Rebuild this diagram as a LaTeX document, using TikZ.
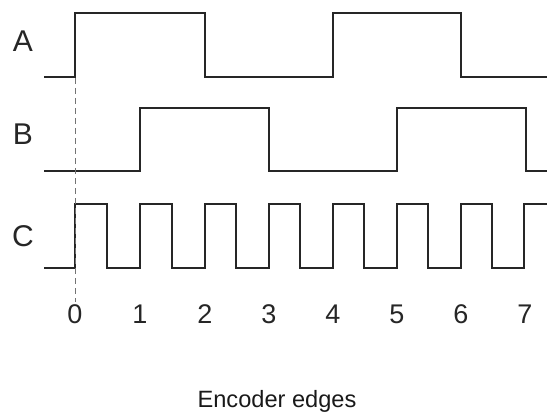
\documentclass[tikz,border=0pt]{standalone}
\usepackage{fontspec}
\setmainfont{Liberation Sans}
\begin{document}
\begin{tikzpicture}[x=1pt,y=-1pt,
  sig/.style={line width=1.6pt,draw=black!85,line join=miter},
  guide/.style={line width=1pt,draw=black!55,dash pattern=on 6pt off 4pt},
  siglabel/.style={anchor=base,font=\fontsize{30}{30}\selectfont,text=black!85,inner sep=0pt},
  ticklabel/.style={anchor=base,font=\fontsize{27}{27}\selectfont,text=black!85,inner sep=0pt},
  caption/.style={anchor=base,font=\fontsize{23.6}{23.6}\selectfont,text=black!90,inner sep=0pt}]
\useasboundingbox (0,0) rectangle (547,412);
% signal A
\draw[sig] (44,77) -- (75,77) -- (75,13) -- (205,13) -- (205,77) -- (333,77) -- (333,13) -- (461,13) -- (461,77) -- (547,77);
% signal B
\draw[sig] (44,171) -- (140,171) -- (140,108) -- (269,108) -- (269,171) -- (397,171) -- (397,108) -- (526,108) -- (526,171) -- (547,171);
% signal C
\draw[sig] (44,268) -- (75,268) -- (75,204) -- (107,204) -- (107,268) -- (140,268) -- (140,204) -- (172,204) -- (172,268)
  -- (205,268) -- (205,204) -- (236,204) -- (236,268) -- (269,268) -- (269,204) -- (300,204) -- (300,268)
  -- (333,268) -- (333,204) -- (364,204) -- (364,268) -- (397,268) -- (397,204) -- (428,204) -- (428,268)
  -- (461,268) -- (461,204) -- (492,204) -- (492,268) -- (524,268) -- (524,204) -- (547,204);
% dashed guide
\coordinate (gtop) at (75,78);
\coordinate (gbot) at (75,302);
\draw[guide] (gtop) -- (gbot);
% labels
\node[siglabel] (la) at (23,52) {A};
\node[siglabel] (lb) at (23,145) {B};
\node[siglabel] (lc) at (23,246) {C};
\foreach \i/\x in {0/75,1/140,2/205,3/269,4/333,5/397,6/461,7/525}{
  \node[ticklabel] (t\i) at (\x,323) {\i};
}
\node[caption] (cap) at (277,407) {Encoder edges};
\end{tikzpicture}
\end{document}
